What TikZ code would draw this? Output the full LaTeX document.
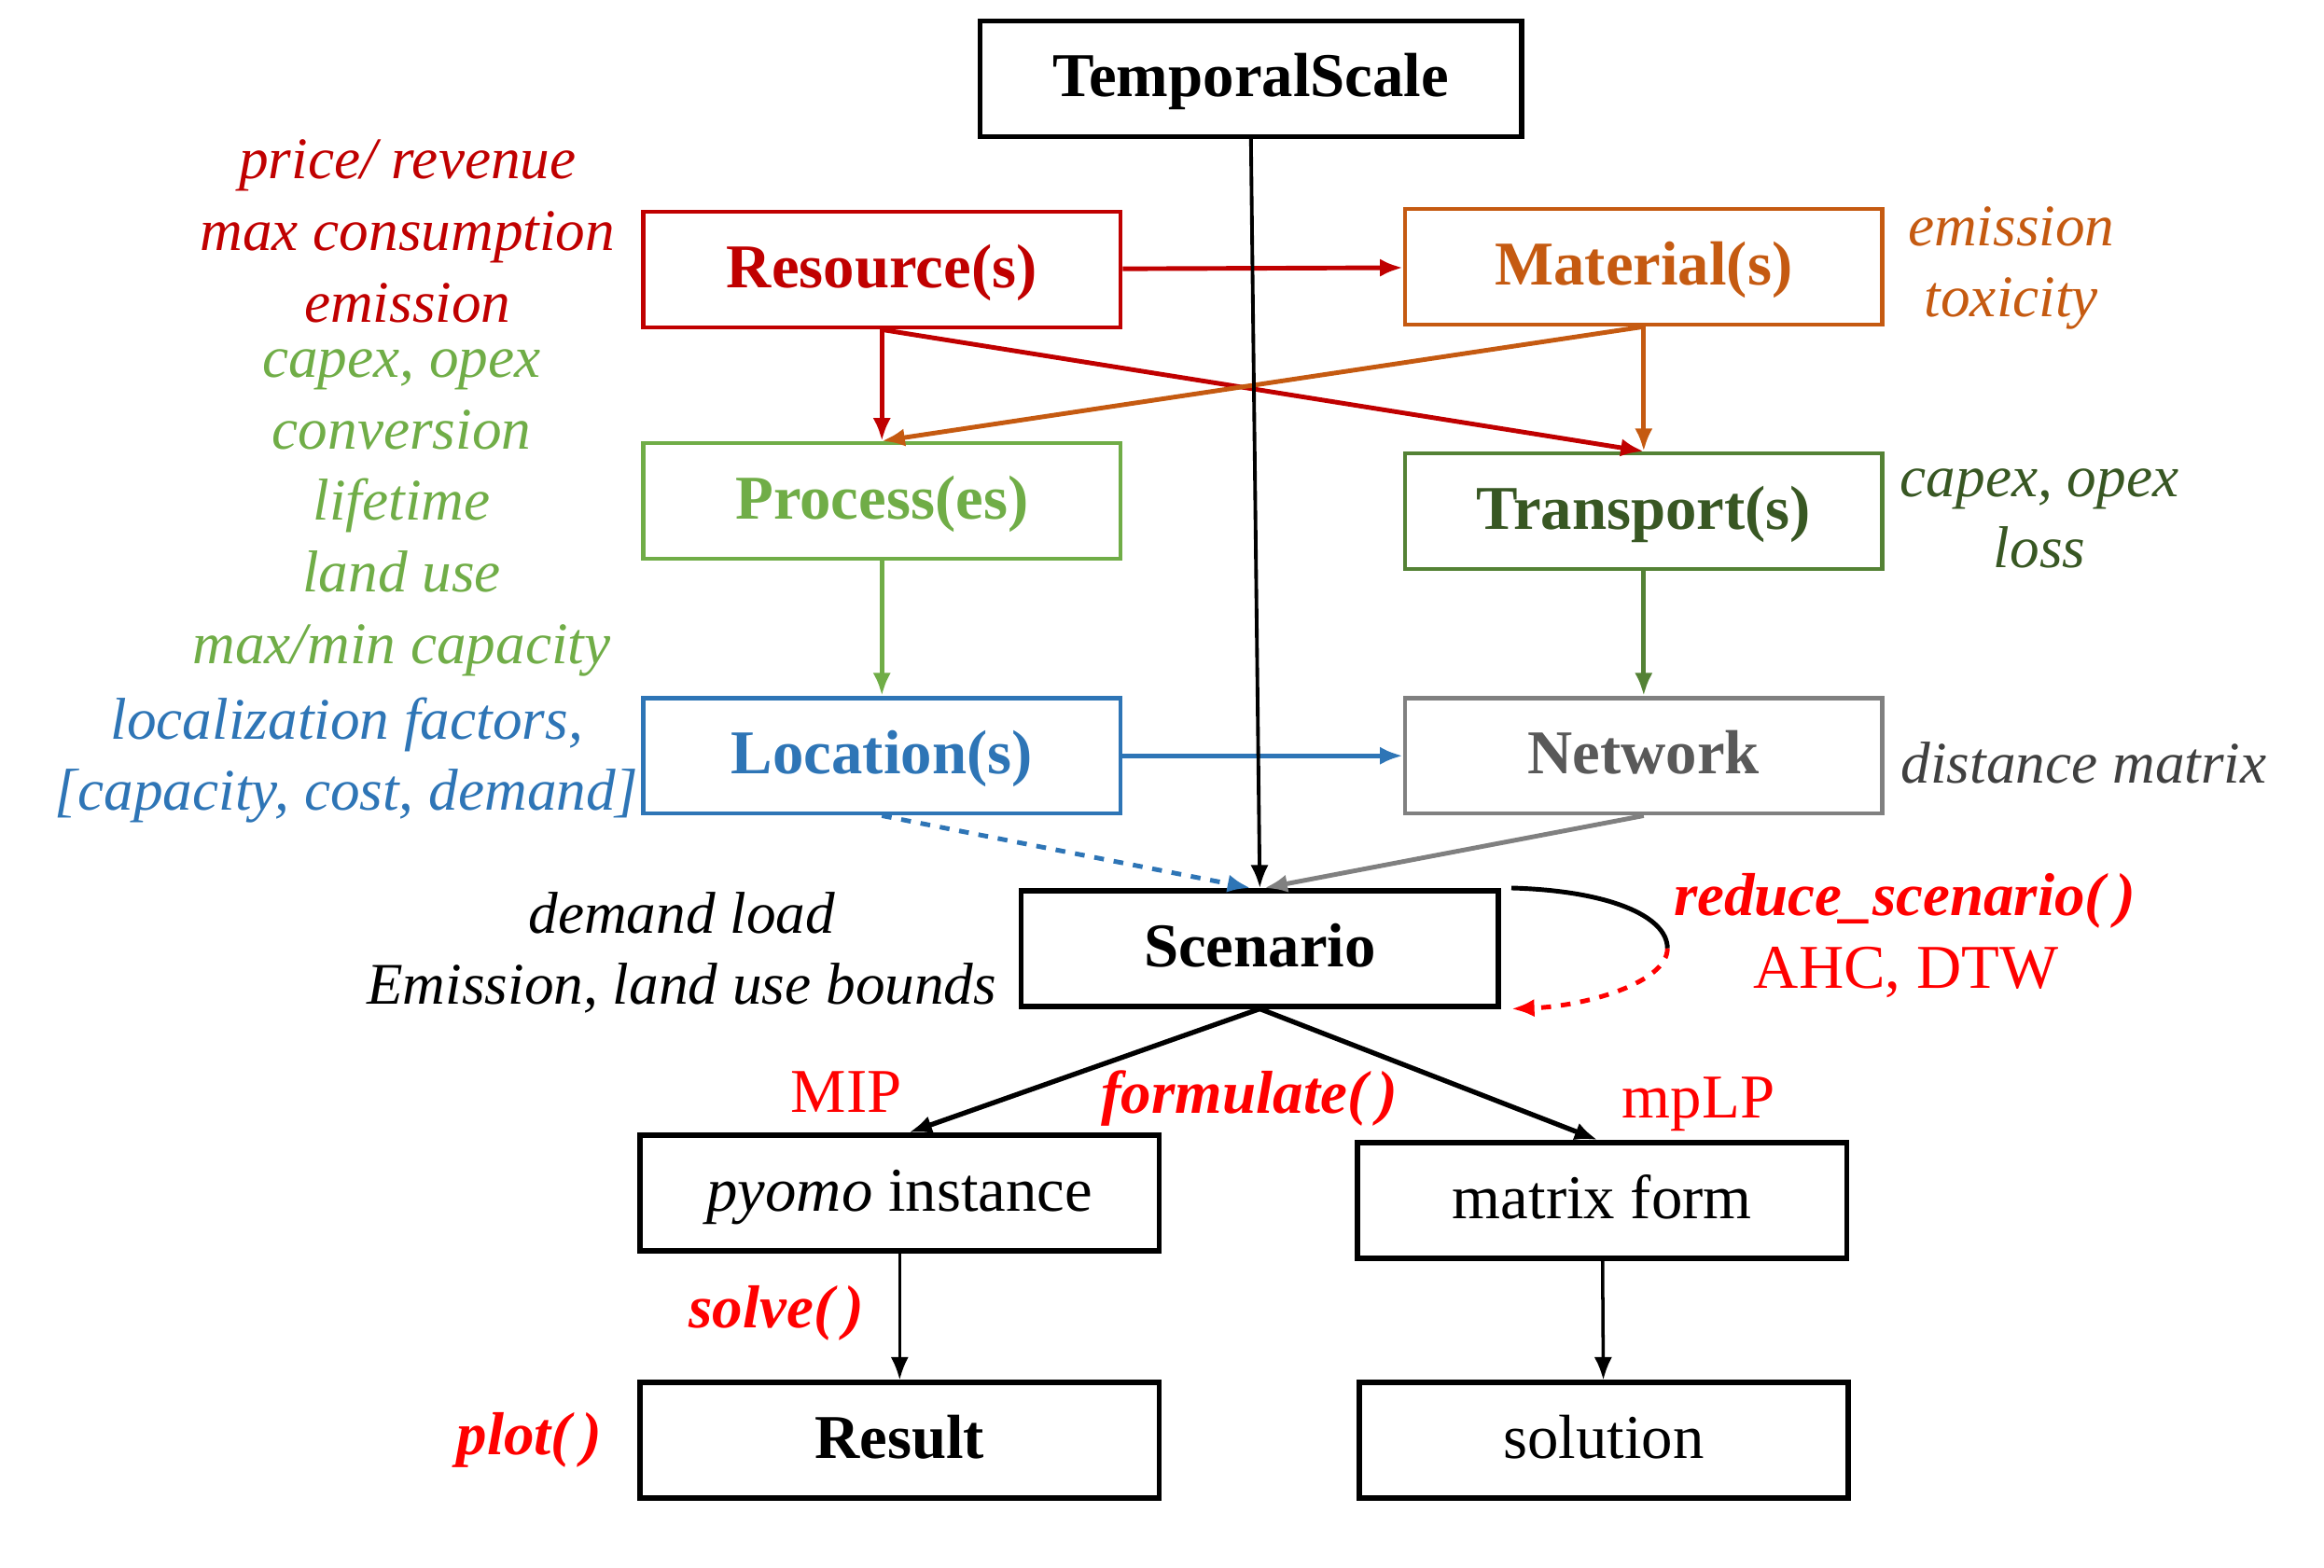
\documentclass[tikz,border=0pt]{standalone}
\usepackage{fontspec}
\setmainfont{Liberation Serif}
\usetikzlibrary{arrows.meta, positioning, calc}

\definecolor{resred}{RGB}{192,0,0}
\definecolor{matorange}{RGB}{197,90,17}
\definecolor{procgreen}{RGB}{112,173,71}
\definecolor{transgreen}{RGB}{84,130,53}
\definecolor{transtext}{RGB}{56,87,35}
\definecolor{locblue}{RGB}{46,117,182}
\definecolor{netgray}{RGB}{128,128,128}
\definecolor{nettext}{RGB}{89,89,89}
\definecolor{disttext}{RGB}{64,64,64}

\begin{document}
\begin{tikzpicture}[
    x=0.015887cm, y=-0.015887cm,
    block/.style={rectangle, draw=black, line width=1.6pt, minimum width=5.116cm, minimum height=1.239cm, text centered, text height=11pt, text depth=0pt, font=\fontsize{19}{22}\selectfont},
    main/.style={block, font=\bfseries\fontsize{19}{22}\selectfont},
    cls/.style={main, line width=1.3pt, draw=#1, text=#1},
    attr/.style={align=center, font=\itshape\fontsize{18}{21.8}\selectfont},
    func/.style={text=red, font=\bfseries\itshape\fontsize{18.5}{22}\selectfont},
    meth/.style={text=red, font=\fontsize{19}{22}\selectfont},
    arrow/.style={line width=1.4pt, -{Latex[length=7pt,width=5.5pt]}}
]
\useasboundingbox (0,0) rectangle (1568,1058);

% Nodes
\node (ts) [main, line width=1.5pt, minimum width=5.8cm] at (844,53) {TemporalScale};

\node (res) [cls=resred] at (595,182) {Resource(s)};
\node (mat) [cls=matorange] at (1109,180) {Material(s)};
\node (proc) [cls=procgreen] at (595,338) {Process(es)};
\node (trans) [cls=transgreen, text=transtext] at (1109,345) {Transport(s)};
\node (loc) [cls=locblue] at (595,510) {Location(s)};
\node (net) [cls=netgray, text=nettext] at (1109,510) {Network};

\node (scen) [main] at (850,640) {Scenario};
\node (pyomo) [block, minimum width=5.56cm] at (607,805) {\textit{pyomo} instance};
\node (matrix) [block, minimum width=5.243cm] at (1081,810) {matrix form};
\node (result) [main, minimum width=5.56cm] at (607,972) {Result};
\node (sol) [block, minimum width=5.243cm] at (1082,972) {solution};

% Attributes
\node (resattr) [attr, text=resred] at (275,156) {price/ revenue\\max consumption\\emission};
\node (procattr) [attr, text=procgreen] at (271,346) {capex, opex\\conversion\\lifetime\\land use\\max/min capacity};
\node (locattr) [attr, text=locblue] at (234,513) {localization factors,\\{}[capacity, cost, demand]};
\node (matattr) [attr, text=matorange] at (1357,181) {emission\\toxicity};
\node (transattr) [attr, text=transtext] at (1376,350) {capex, opex\\loss};
\node (netattr) [attr, text=disttext] at (1406,515) {distance matrix};
\node (scenattr) [attr, text=black] at (460,643) {demand load\\Emission, land use bounds};

% Functions
\node (reduce) [func] at (1285,608) {reduce\_scenario(\,)};
\node (ahc) [meth] at (1286,656) {AHC, DTW};
\node (mip) [meth] at (571,737) {MIP};
\node (formulate) [func] at (843,741) {formulate(\,)};
\node (mplp) [meth] at (1146,745) {mpLP};
\node (solve) [func] at (524,886) {solve(\,)};
\node (plot) [func] at (357,972) {plot(\,)};

\coordinate (loop) at (1125,640);

% Arrows
\draw [arrow, resred] (res) -- (mat);
\draw [arrow, resred] (res.south) -- (proc.north);
\draw [arrow, resred] (res.south) -- (trans.north);
\draw [arrow, matorange] (mat.south) -- (proc.north);
\draw [arrow, matorange] (mat.south) -- (trans.north);
\draw [arrow, procgreen] (proc) -- (loc);
\draw [arrow, transgreen] (trans) -- (net);
\draw [arrow, locblue] (loc) -- (net);

\draw [arrow, line width=1.1pt] (ts.south) -- (scen.north);
\draw [arrow, locblue, dashed] (loc.south) -- ([xshift=-1mm]scen.north);
\draw [arrow, netgray] (net.south) -- ([xshift=0.5mm]scen.north);

% Self loop
\draw [line width=1.4pt] ([xshift=1.1mm]scen.north east) .. controls (1085,601) and (1125,618) .. (loop);
\draw [arrow, red, dashed] (loop) .. controls (1125,663) and (1070,679) .. ([xshift=1.1mm]scen.south east);

\draw [arrow, line width=1.5pt] (scen.south) -- ([xshift=1mm]pyomo.north);
\draw [arrow, line width=1.5pt] (scen.south) -- ([xshift=-0.5mm]matrix.north);
\draw [arrow, line width=1pt] (pyomo) -- (result);
\draw [arrow, line width=1pt] (matrix) -- (sol);

\end{tikzpicture}
\end{document}
